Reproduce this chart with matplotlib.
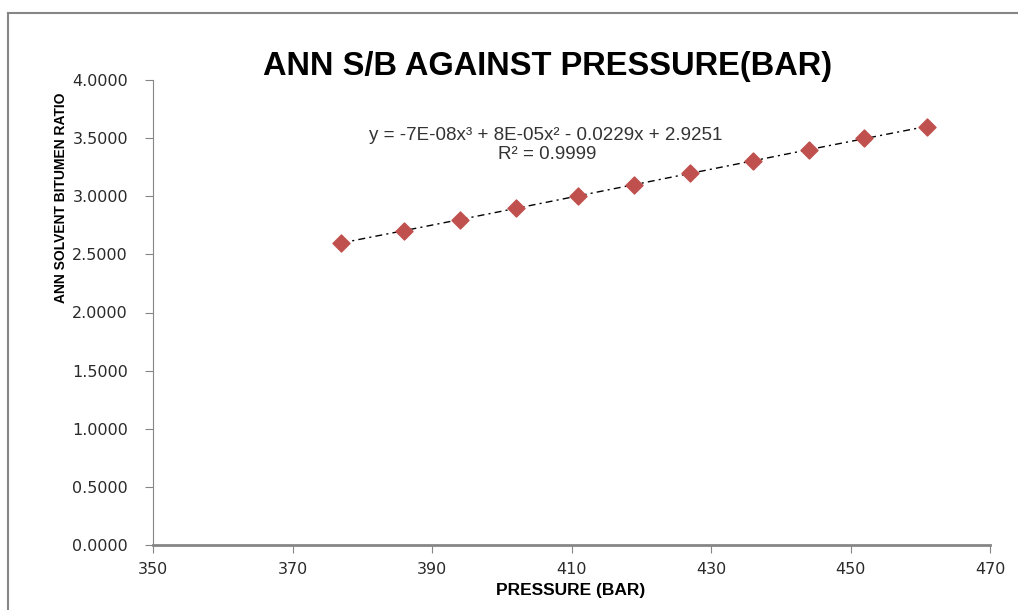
import numpy as np
import matplotlib.pyplot as plt
from matplotlib.lines import Line2D

plt.rcParams["font.family"] = ["DejaVu Sans"]

# data
pressure = [377, 386, 394, 402, 411, 419, 427, 436, 444, 452, 461]
sb_ratio = [2.6, 2.7, 2.8, 2.9, 3.0, 3.1, 3.2, 3.3, 3.4, 3.5, 3.6]
x_ticks = [350, 370, 390, 410, 430, 450, 470]
y_ticks = [0.0, 0.5, 1.0, 1.5, 2.0, 2.5, 3.0, 3.5, 4.0]

sans = ["Liberation Sans", "DejaVu Sans"]
grey = "#868686"

fig = plt.figure(figsize=(10.18, 6.10), dpi=100)
ax = fig.add_axes([153/1018, 1-545/610, (990-153)/1018, (545-80)/610])

# polynomial (order 3) trend line
coef = np.polyfit(pressure, sb_ratio, 3)
xs = np.linspace(min(pressure), max(pressure), 200)
ax.plot(xs, np.polyval(coef, xs), color="black", lw=1.0, ls=(0, (5, 3, 1.5, 3)),
        zorder=2)
ax.scatter(pressure, sb_ratio, marker="D", s=75, color="#C0504D",
           edgecolors="#C0504D", zorder=3)

ax.set_xlim(350, 470)
ax.set_ylim(0, 4)
ax.set_xticks(x_ticks)
ax.set_yticks(y_ticks)
ax.set_yticklabels([f"{v:.4f}" for v in y_ticks])
for s in ["top", "right"]:
    ax.spines[s].set_visible(False)
ax.spines["left"].set_color(grey)
ax.spines["bottom"].set_color(grey)
ax.spines["bottom"].set_linewidth(2)
ax.tick_params(axis="both", colors=grey, labelcolor="#2a2a2a", labelsize=11.5,
               length=6, direction="out")
ax.tick_params(axis="y", pad=12)
ax.tick_params(axis="x", pad=6)

fig.text(548/1018, 1-66/610, "ANN S/B AGAINST PRESSURE(BAR)", ha="center",
         va="center", fontsize=23.5, fontweight="bold", family=sans)
fig.text(571/1018, 1-590/610, "PRESSURE (BAR)", ha="center", va="center",
         fontsize=12.5, fontweight="bold", family=sans)
fig.text(61/1018, 1-198/610, "ANN SOLVENT BITUMEN RATIO", ha="center",
         va="center", rotation=90, fontsize=10, fontweight="bold", family=sans)

fig.text(546/1018, 1-135/610, "y = -7E-08x³ + 8E-05x² - 0.0229x + 2.9251",
         ha="center", va="center", fontsize=13.5, color="#333333", family=sans)
fig.text(547/1018, 1-155/610, "R² = 0.9999", ha="center", va="center",
         fontsize=13.5, color="#333333", family=sans)

# outer chart border
fig.add_artist(Line2D([8/1018, 8/1018], [0, 1-13/610], color=grey, lw=1.5,
                      transform=fig.transFigure))
fig.add_artist(Line2D([8/1018, 1], [1-13/610, 1-13/610], color=grey, lw=1.5,
                      transform=fig.transFigure))

fig.savefig("out.png", dpi=100)
